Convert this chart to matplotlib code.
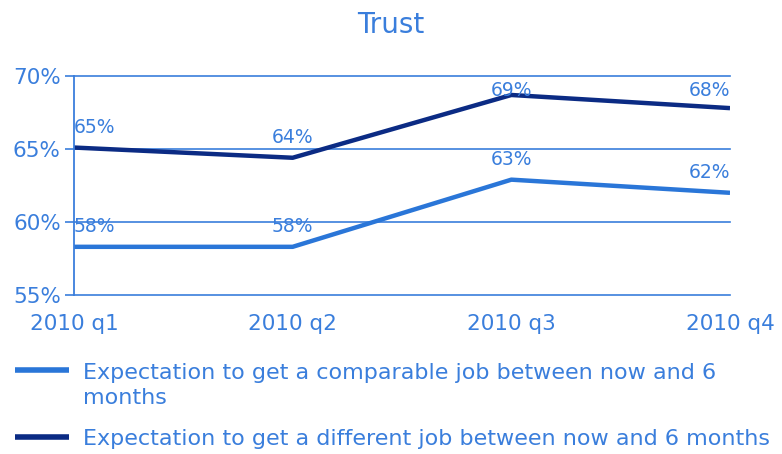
import matplotlib
matplotlib.use('Agg')
import matplotlib.pyplot as plt

quarters = ['2010 q1', '2010 q2', '2010 q3', '2010 q4']
comparable = [58.3, 58.3, 62.9, 62.0]
different = [65.1, 64.4, 68.7, 67.8]
comparable_labels = ['58%', '58%', '63%', '62%']
different_labels = ['65%', '64%', '69%', '68%']
series_names = ['Expectation to get a comparable job between now and 6\nmonths',
                'Expectation to get a different job between now and 6 months']
yticks = [55, 60, 65, 70]

text_col = '#3a7edc'
grid_col = '#3a7edc'
light_col = '#2a76d8'
dark_col = '#0b2b84'

plt.rcParams['font.family'] = ['DejaVu Sans']

fig = plt.figure(figsize=(7.82, 4.54), dpi=100)
ax = fig.add_axes([74 / 782, 1 - 295 / 454, 656 / 782, 219 / 454])

x = list(range(len(quarters)))
ax.plot(x, comparable, color=light_col, lw=3.2, solid_capstyle='butt', label=series_names[0])
ax.plot(x, different, color=dark_col, lw=3.2, solid_capstyle='butt', label=series_names[1])

# value labels above each point, kept inside the plot near the top
for vals, labs in [(comparable, comparable_labels), (different, different_labels)]:
    for i, (v, lab) in enumerate(zip(vals, labs)):
        ha = 'center'
        if i == 0:
            ha = 'left'
        elif i == len(vals) - 1:
            ha = 'right'
        ax.text(i, min(v + 1.0, 68.6), lab, ha=ha, va='baseline',
                color=text_col, fontsize=13.5)

ax.set_xlim(0, len(quarters) - 1)
ax.set_ylim(55, 70)
ax.set_yticks(yticks)
ax.set_yticklabels([f'{t}%' for t in yticks])
ax.set_xticks(x)
ax.set_xticklabels(quarters)
ax.grid(axis='y', color=grid_col, lw=1.2)
for gl in ax.get_ygridlines():
    gl.set_clip_on(False)
ax.set_axisbelow(True)
for s in ['top', 'right', 'bottom']:
    ax.spines[s].set_visible(False)
ax.spines['left'].set_color(grid_col)
ax.spines['left'].set_linewidth(1.3)
ax.tick_params(axis='y', colors=grid_col, labelcolor=text_col, length=6.5, width=1.2,
               labelsize=15.5, pad=3)
ax.tick_params(axis='x', length=0, labelcolor=text_col, labelsize=15.5, pad=14)

fig.text(0.5, 1 - 33 / 454, 'Trust', ha='center', va='baseline', color=text_col, fontsize=20)

leg = fig.legend(loc='upper left', bbox_to_anchor=(15 / 782, 1 - 363 / 454), frameon=False,
                 borderaxespad=0, borderpad=0,
                 fontsize=16, handlelength=2.45, handletextpad=0.6, labelspacing=0.95)
for t in leg.get_texts():
    t.set_color(text_col)
    t.set_linespacing(1.3)
for h in leg.get_lines():
    h.set_linewidth(4)
# the wrapped entry keeps its handle level with the first text line
first = leg.get_lines()[0]
first.set_ydata([y + 11 for y in first.get_ydata()])

fig.savefig('out.png', dpi=100)
